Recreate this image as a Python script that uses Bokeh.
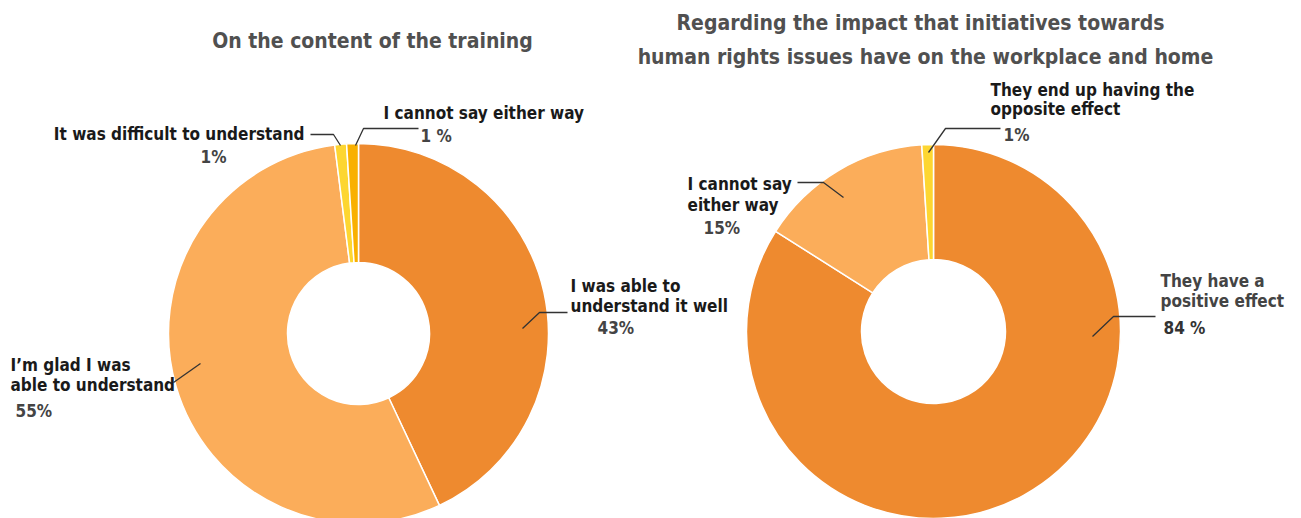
import numpy as np
from bokeh.plotting import figure
from bokeh.models import Range1d, ColumnDataSource
from bokeh.core.properties import value
from bokeh.embed import file_html
from bokeh.resources import INLINE

# ---- data ----
left_categories = ["I was able to understand it well", "I'm glad I was able to understand",
                   "It was difficult to understand", "I cannot say either way"]
left_values = [43, 55, 1, 1]
left_colors = ["#EE8A2F", "#FBAD5A", "#FDD631", "#F9B000"]

right_categories = ["They have a positive effect", "I cannot say either way",
                    "They end up having the opposite effect"]
right_values = [84, 15, 1]
right_colors = ["#EE8A2F", "#FBAD5A", "#FDD631"]

left_title = "On the content of the training"
right_title = ["Regarding the impact that initiatives towards",
               "human rights issues have on the workplace and home"]

FONT = value("'Liberation Sans Narrow', 'DejaVu Sans Condensed', 'Roboto Condensed', sans-serif")
W, H = 1293, 518

p = figure(width=W, height=H, output_backend="svg", toolbar_location=None,
           x_range=Range1d(0, W), y_range=Range1d(518 - H, 518),
           min_border=0)
p.axis.visible = False
p.grid.visible = False
p.outline_line_color = None
p.background_fill_color = "white"

def Y(y):
    return 518 - y

def donut(cx, cy, r_in, r_out, vals, colors):
    vals = np.array(vals, dtype=float)
    fr = vals / vals.sum()
    ends = np.cumsum(fr)
    starts = ends - fr
    src = ColumnDataSource(dict(
        start=np.pi / 2 - starts * 2 * np.pi,
        end=np.pi / 2 - ends * 2 * np.pi,
        color=colors))
    p.annular_wedge(x=cx, y=Y(cy), inner_radius=r_in, outer_radius=r_out,
                    start_angle="start", end_angle="end", direction="clock",
                    fill_color="color", line_color="white", line_width=1.5, source=src)

donut(358, 333, 71, 190, left_values, left_colors)
donut(933, 331, 72, 187, right_values, right_colors)

def leader(xs, ys):
    p.line(xs, [Y(v) for v in ys], line_color="#333333", line_width=1.3)

def txt(x, y, s, size="17px", color="#1a1a1a", bold=True, align="left"):
    p.text(x=[x], y=[Y(y)], text=[s], text_font=FONT, text_font_size=size,
           text_color=color, text_font_style="bold" if bold else "normal",
           text_align=align, text_baseline="middle")

# titles
txt(372, 40, left_title, size="21px", color="#505050", align="center")
txt(920, 22, right_title[0], size="21px", color="#505050", align="center")
txt(925, 56, right_title[1], size="21px", color="#505050", align="center")

# left labels
leader([355, 363, 418], [145, 128, 128])
txt(383, 112, "I cannot say either way")
txt(420, 135, "1 %", color="#444444")

leader([340, 333, 310], [145, 134, 134])
txt(304, 133, "It was difficult to understand", align="right")
txt(200, 156, "1%", color="#444444")

leader([522, 539, 567], [328, 312, 312])
txt(570, 285, "I was able to")
txt(570, 305, "understand it well")
txt(597, 327, "43%", color="#444444")

leader([200, 173], [363, 382])
txt(10, 364, "I\u2019m glad I was")
txt(10, 384, "able to understand")
txt(15, 410, "55%", color="#444444")

# right labels
leader([928, 945, 1000], [152, 128, 128])
txt(990, 89, "They end up having the")
txt(990, 108, "opposite effect")
txt(1003, 134, "1%", color="#444444")

leader([797, 823, 843], [182, 182, 197])
txt(687, 183, "I cannot say")
txt(687, 204, "either way")
txt(703, 227, "15%", color="#444444")

leader([1092, 1113, 1155], [336, 316, 316])
txt(1160, 280, "They have a", color="#444444")
txt(1160, 300, "positive effect", color="#444444")
txt(1163, 327, "84 %", color="#333333")

open("out.html", "w").write(file_html(p, INLINE))
